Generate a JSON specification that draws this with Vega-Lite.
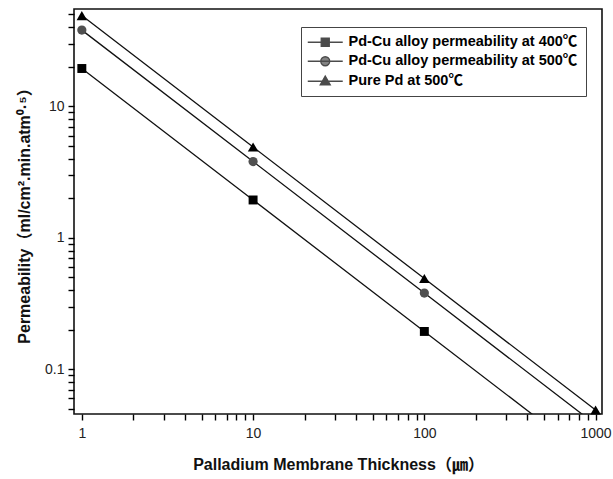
{
  "$schema": "https://vega.github.io/schema/vega-lite/v6.json",
  "width": 528,
  "height": 405,
  "autosize": "none",
  "padding": {"left": 74, "top": 9, "right": 11, "bottom": 65},
  "background": "white",
  "config": {
    "view": {"stroke": "#111", "strokeWidth": 1.6},
    "font": "Liberation Sans, Noto Sans CJK KR",
    "axis": {"domain": false, "grid": false, "ticks": true, "tickColor": "#000", "tickWidth": 1.4, "tickOpacity": 1, "labelOverlap": false, "labelFlush": false, "labelFontSize": 14, "labelColor": "#222", "titleFontSize": 16, "titleFontWeight": "bold", "titleColor": "#111"}
  },
  "data": {
    "values": [
      {"series": "Pd-Cu alloy permeability at 400℃", "thickness": 1, "permeability": 19.4, "marker": true},
      {"series": "Pd-Cu alloy permeability at 400℃", "thickness": 10, "permeability": 1.94, "marker": true},
      {"series": "Pd-Cu alloy permeability at 400℃", "thickness": 100, "permeability": 0.194, "marker": true},
      {"series": "Pd-Cu alloy permeability at 400℃", "thickness": 1000, "permeability": 0.0194, "marker": false},
      {"series": "Pd-Cu alloy permeability at 500℃", "thickness": 1, "permeability": 38, "marker": true},
      {"series": "Pd-Cu alloy permeability at 500℃", "thickness": 10, "permeability": 3.8, "marker": true},
      {"series": "Pd-Cu alloy permeability at 500℃", "thickness": 100, "permeability": 0.38, "marker": true},
      {"series": "Pd-Cu alloy permeability at 500℃", "thickness": 1000, "permeability": 0.038, "marker": false},
      {"series": "Pure Pd at 500℃", "thickness": 1, "permeability": 49, "marker": true},
      {"series": "Pure Pd at 500℃", "thickness": 10, "permeability": 4.9, "marker": true},
      {"series": "Pure Pd at 500℃", "thickness": 100, "permeability": 0.49, "marker": true},
      {"series": "Pure Pd at 500℃", "thickness": 1000, "permeability": 0.049, "marker": true}
    ]
  },
  "encoding": {
    "x": {
      "field": "thickness",
      "type": "quantitative",
      "scale": {"type": "log", "domain": [0.9, 1090], "nice": false},
      "axis": {
        "values": [1, 2, 3, 4, 5, 6, 7, 8, 9, 10, 20, 30, 40, 50, 60, 70, 80, 90, 100, 200, 300, 400, 500, 600, 700, 800, 900, 1000],
        "format": "~g",
        "labelExpr": "abs(log(datum.value)/LN10 - round(log(datum.value)/LN10)) < 0.001 ? datum.label : ''",
        "ticks": true,
        "tickSize": 6,
        "zindex": 1,
        "labelPadding": 6,
        "title": "Palladium Membrane Thickness（㎛）",
        "titlePadding": 16
      }
    },
    "y": {
      "field": "permeability",
      "type": "quantitative",
      "scale": {"type": "log", "domain": [0.0457, 55], "nice": false},
      "axis": {
        "values": [0.05, 0.06, 0.07, 0.08, 0.09, 0.1, 0.2, 0.3, 0.4, 0.5, 0.6, 0.7, 0.8, 0.9, 1, 2, 3, 4, 5, 6, 7, 8, 9, 10, 20, 30, 40, 50],
        "format": "~g",
        "labelExpr": "abs(log(datum.value)/LN10 - round(log(datum.value)/LN10)) < 0.001 ? datum.label : ''",
        "ticks": true,
        "tickSize": 6,
        "zindex": 1,
        "labelPadding": 4,
        "title": "Permeability（ml/cm².min.atm⁰·⁵）",
        "titlePadding": 12
      }
    }
  },
  "layer": [
    {
      "mark": {"type": "line", "color": "#111", "strokeWidth": 1.3, "clip": true},
      "encoding": {"detail": {"field": "series", "type": "nominal"}}
    },
    {
      "transform": [{"filter": "datum.series === 'Pd-Cu alloy permeability at 400℃' && datum.marker"}],
      "mark": {"type": "point", "shape": "square", "filled": true, "color": "#000", "opacity": 0.999, "size": 80, "clip": true}
    },
    {
      "transform": [{"filter": "datum.series === 'Pd-Cu alloy permeability at 500℃' && datum.marker"}],
      "mark": {"type": "point", "shape": "circle", "filled": true, "color": "#505050", "opacity": 0.999, "size": 85}
    },
    {
      "transform": [{"filter": "datum.series === 'Pure Pd at 500℃'"}],
      "mark": {"type": "point", "shape": "triangle-up", "filled": true, "color": "#000", "opacity": 0.999, "size": 110}
    },
    {
      "transform": [{"filter": "datum.thickness === 1"}],
      "mark": {"type": "point", "filled": true, "size": 0},
      "encoding": {
        "color": {
          "field": "series",
          "type": "nominal",
          "scale": {"domain": ["Pd-Cu alloy permeability at 400℃", "Pd-Cu alloy permeability at 500℃", "Pure Pd at 500℃"], "range": ["#000", "#505050", "#000"]},
          "legend": {
            "orient": "none", "legendX": 227, "legendY": 18, "title": null,
            "strokeColor": "#444", "padding": 8,
            "labelFont": "Liberation Sans, Noto Sans CJK KR", "labelFontSize": 14.5, "labelFontWeight": "bold", "labelColor": "#000", "labelLimit": 400,
            "symbolSize": 136, "symbolOffset": 9, "labelOffset": 16, "rowPadding": 4,
            "symbolStrokeWidth": 1.3, "symbolStrokeColor": "#000"
          }
        },
        "shape": {
          "field": "series",
          "type": "nominal",
          "scale": {
            "domain": ["Pd-Cu alloy permeability at 400℃", "Pd-Cu alloy permeability at 500℃", "Pure Pd at 500℃"],
            "range": [
              "M-3,0H3M-0.69,-0.69H0.69V0.69H-0.69Z",
              "M-3,0H3M-0.77,0A0.77,0.77,0,1,1,0.77,0A0.77,0.77,0,1,1,-0.77,0Z",
              "M-3,0H3M0,-0.9L0.86,0.6H-0.86Z"
            ]
          },
          "legend": {
            "orient": "none", "legendX": 227, "legendY": 18, "title": null,
            "strokeColor": "#444", "padding": 8,
            "labelFont": "Liberation Sans, Noto Sans CJK KR", "labelFontSize": 14.5, "labelFontWeight": "bold", "labelColor": "#000", "labelLimit": 400,
            "symbolSize": 136, "symbolOffset": 9, "labelOffset": 16, "rowPadding": 4,
            "symbolStrokeWidth": 1.3, "symbolStrokeColor": "#000"
          }
        }
      }
    }
  ]
}
